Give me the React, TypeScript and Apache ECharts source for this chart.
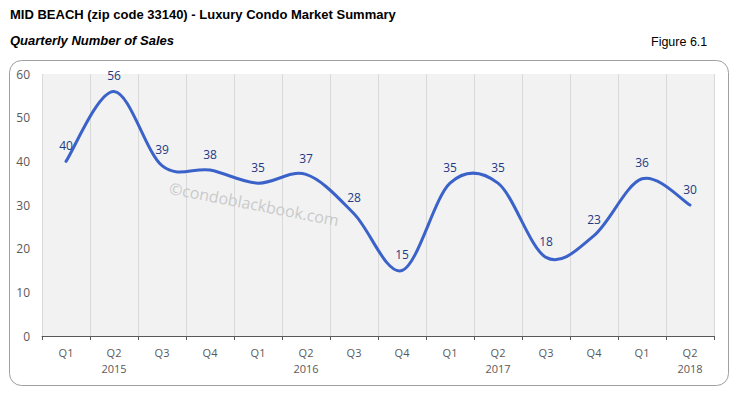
import React, { useEffect, useRef } from "react";
import * as echarts from "echarts";

const quarters = ["Q1", "Q2", "Q3", "Q4", "Q1", "Q2", "Q3", "Q4", "Q1", "Q2", "Q3", "Q4", "Q1", "Q2"];
const years = ["", "2015", "", "", "", "2016", "", "", "", "2017", "", "", "", "2018"];
const sales = [40, 56, 39, 38, 35, 37, 28, 15, 35, 35, 18, 23, 36, 30];
const yTicks = { min: 0, max: 60, interval: 10 };

const categories = quarters.map((q, i) => (years[i] ? `${q}\n${years[i]}` : q));

export default function App() {
  const ref = useRef<HTMLDivElement>(null);
  useEffect(() => {
    if (!ref.current) return;
    const chart = echarts.init(ref.current, null, { renderer: "svg" });
    const axisFont = "'Open Sans', 'DejaVu Sans', sans-serif";
    chart.setOption({
      animation: false,
      backgroundColor: "#ffffff",
      graphic: [
        {
          type: "text",
          left: 10,
          top: 8,
          style: {
            text: "MID BEACH (zip code 33140) - Luxury Condo Market Summary",
            font: "bold 13px 'Liberation Sans', Arial, sans-serif",
            fill: "#000",
          },
        },
        {
          type: "text",
          left: 10,
          top: 34,
          style: {
            text: "Quarterly Number of Sales",
            font: "italic bold 13px 'Liberation Sans', Arial, sans-serif",
            fill: "#000",
          },
        },
        {
          type: "text",
          left: 651,
          top: 35,
          style: {
            text: "Figure 6.1",
            font: "12.5px 'Liberation Sans', Arial, sans-serif",
            fill: "#000",
          },
        },
        {
          type: "rect",
          shape: { x: 9.5, y: 60.5, width: 719, height: 325, r: 12 },
          style: { fill: "none", stroke: "#a0a0a0", lineWidth: 1 },
          z: -1,
        },
        {
          type: "text",
          x: 171,
          y: 180,
          rotation: -0.19,
          style: {
            text: "©condoblackbook.com",
            font: "16px 'Open Sans', sans-serif",
            fill: "#cacaca",
          },
          z: 1,
        },
      ],
      grid: {
        left: 42,
        right: 22,
        top: 74,
        bottom: 59,
        show: true,
        backgroundColor: "#f2f2f2",
        borderWidth: 0,
      },
      xAxis: {
        type: "category",
        data: categories,
        boundaryGap: true,
        axisLine: { show: true, lineStyle: { color: "#595959", width: 1 } },
        axisTick: { show: true, length: 4, lineStyle: { color: "#595959" } },
        splitLine: { show: true, lineStyle: { color: "#d9d9d9", width: 1 } },
        axisLabel: {
          color: "#595959",
          fontFamily: axisFont,
          fontSize: 11,
          lineHeight: 16,
          margin: 8,
          interval: 0,
        },
      },
      yAxis: {
        type: "value",
        min: yTicks.min,
        max: yTicks.max,
        interval: yTicks.interval,
        axisLine: { show: false },
        axisTick: { show: false },
        splitLine: { show: false },
        axisLabel: {
          color: "#595959",
          fontFamily: axisFont,
          fontSize: 12,
          margin: 12,
        },
      },
      series: [
        {
          type: "custom",
          data: sales,
          z: 3,
          silent: true,
          renderItem: (params: any, api: any) => {
            if (params.dataIndex !== 0) return null;
            const pts = sales.map((v, i) => api.coord([i, v]));
            const n = pts.length;
            let d = `M${pts[0][0]},${pts[0][1]}`;
            for (let i = 0; i < n - 1; i++) {
              const p0 = pts[Math.max(i - 1, 0)];
              const p1 = pts[i];
              const p2 = pts[i + 1];
              const p3 = pts[Math.min(i + 2, n - 1)];
              const c1x = p1[0] + (p2[0] - p0[0]) / 6;
              const c1y = p1[1] + (p2[1] - p0[1]) / 6;
              const c2x = p2[0] - (p3[0] - p1[0]) / 6;
              const c2y = p2[1] - (p3[1] - p1[1]) / 6;
              d += ` C${c1x},${c1y} ${c2x},${c2y} ${p2[0]},${p2[1]}`;
            }
            return {
              type: "path",
              shape: { pathData: d },
              style: { fill: "none", stroke: "#3a62c9", lineWidth: 3, lineJoin: "round", lineCap: "round" },
            };
          },
        },
        {
          type: "scatter",
          data: sales,
          symbol: "circle",
          symbolSize: 2,
          itemStyle: { color: "rgba(0,0,0,0)" },
          label: {
            show: true,
            position: "top",
            distance: 9,
            color: "#1d3a85",
            textBorderWidth: 0,
            opacity: 1,
            fontFamily: axisFont,
            fontSize: 12,
          },
          z: 4,
        },
      ],
    });
    return () => chart.dispose();
  }, []);
  return <div ref={ref} style={{ position: "fixed", left: 0, top: 0, width: 736, height: 395 }} />;
}
